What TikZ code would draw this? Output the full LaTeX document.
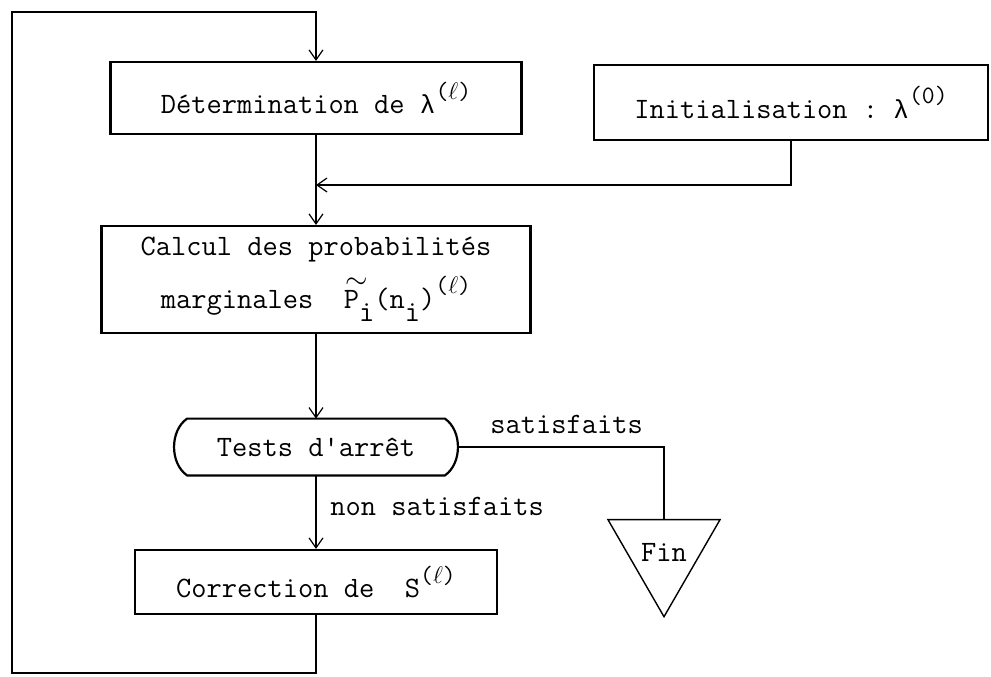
\documentclass[tikz,border=0pt]{standalone}
\usepackage{fontspec}
\setmonofont{Latin Modern Mono}
\newfontfamily\lamfont{Liberation Mono}
\usetikzlibrary{arrows.meta,shapes.geometric}
\newcommand{\Sp}[1]{\raisebox{0.5em}{\fontsize{12.5}{12.5}\selectfont #1}}
\newcommand{\Sb}[1]{\raisebox{-0.45em}{#1}}
\newcommand{\lam}{{\lamfont\fontsize{13}{15}\selectfont λ}}
\newcommand{\tildeP}{\rlap{\smash{\raisebox{0.66em}{\kern0.05em$\sim$}}}P}
\begin{document}
\begin{tikzpicture}[x=0.5pt,y=-0.5pt,
  font=\ttfamily\fontsize{14.8}{17}\selectfont,
  box/.style={draw,line width=1.1pt,inner sep=0pt,align=center},
  con/.style={line width=0.6pt},
  arr/.style={con,-{Straight Barb[length=5pt,width=7pt]}},
  lbl/.style={inner sep=0pt,anchor=base west}]
\useasboundingbox (0,0) rectangle (991,676);
% nodes
\node[box,minimum width=205.5pt,minimum height=36pt] (det) at (316,98)
  {Détermination de \lam\Sp{($\ell$)}};
\node[box,minimum width=197pt,minimum height=37.5pt] (init) at (791,102.5)
  {Initialisation : \lam\Sp{(0)}};
\node[box,minimum width=214.5pt,minimum height=53.5pt] (calc) at (316,279.5)
  {Calcul des probabilités\\[6pt]marginales~~\tildeP\Sb{i}(n\Sb{i})\Sp{($\ell$)}};
\node[inner sep=0pt,minimum width=128.5pt,minimum height=28pt] (tests) at (316,447)
  {Tests d'arrêt};
\draw[line width=1.1pt] (tests.north west) -- (tests.north east)
  .. controls +(8.7pt,-6pt) and +(8.7pt,6pt) .. (tests.south east)
  -- (tests.south west)
  .. controls +(-8.7pt,6pt) and +(-8.7pt,-6pt) .. cycle;
\node[box,minimum width=181pt,minimum height=32pt] (corr) at (316,582)
  {Correction de~~S\Sp{($\ell$)}};
\node[draw,line width=0.7pt,regular polygon,regular polygon sides=3,
  shape border rotate=180,minimum size=64.7pt,inner sep=0pt] (fin) at (664,552) {Fin};
% labels
\node[lbl] (lsat) at (490,433) {satisfaits};
\node[lbl] (lnon) at (330,515) {non satisfaits};
% coordinates
\coordinate (bl) at (12,673);
\coordinate (tl) at (12,12);
\coordinate (j) at (316,185);
\coordinate (te) at ([xshift=6.5pt]tests.east);
% connectors
\draw[arr] (corr.south) |- (bl) -- (tl) -| (det.north);
\draw[arr] (det.south) -- (calc.north);
\draw[arr] (init.south) |- (j);
\draw[arr] (calc.south) -- (tests.north);
\draw[arr] (tests.south) -- (corr.north);
\draw[con] (te) -| (fin.north);
\end{tikzpicture}
\end{document}
